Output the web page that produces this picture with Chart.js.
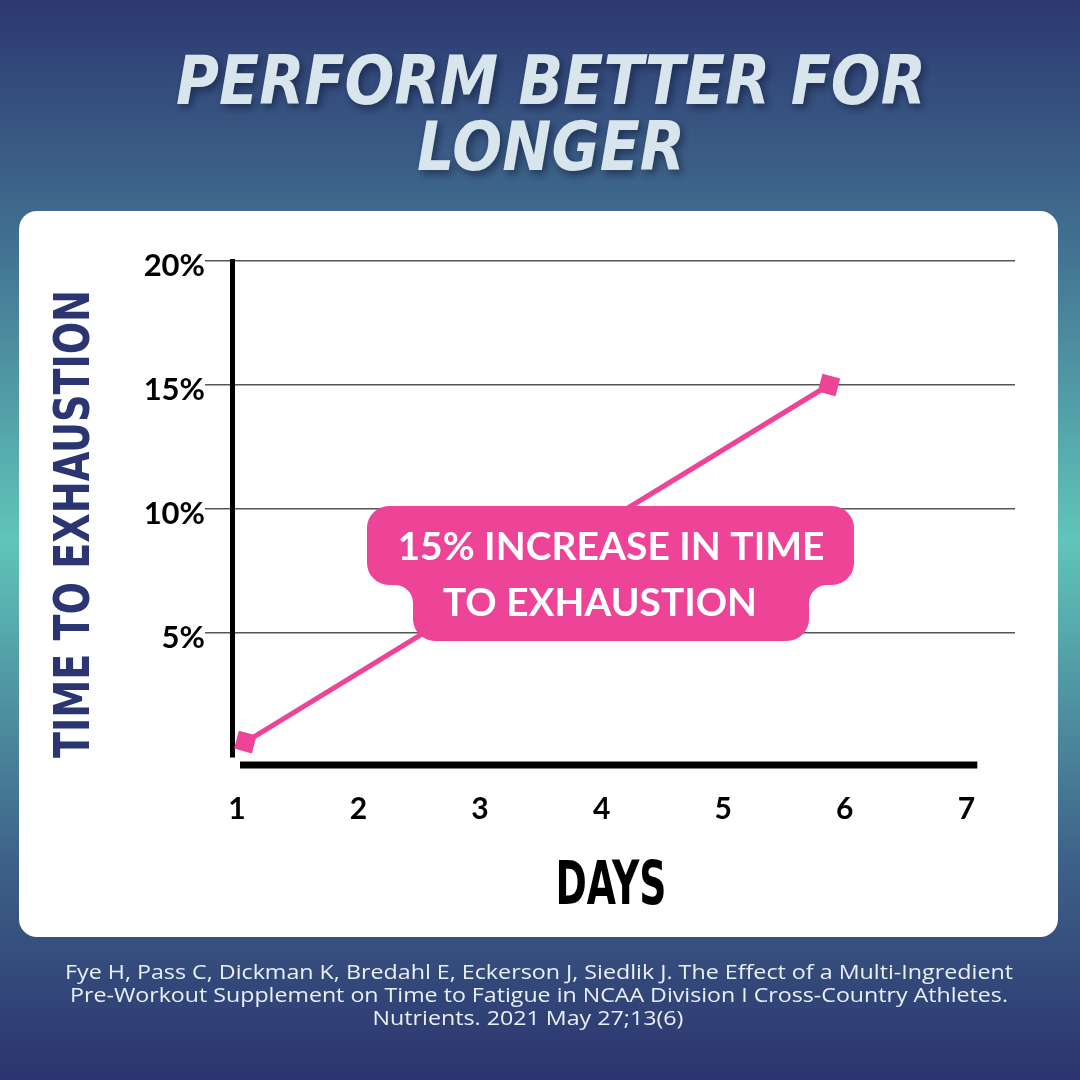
<!DOCTYPE html>
<html>
<head>
<meta charset="utf-8">
<script src="https://cdn.jsdelivr.net/npm/chart.js@4.4.1/dist/chart.umd.min.js"></script>
<style>
  html, body { margin: 0; padding: 0; background: #2c3871; }
  #grafico { display: block; }
</style>
</head>
<body>
<canvas id="grafico" width="1080" height="1080"></canvas>
<script>
// dados do gráfico
const dayTicks = [1, 2, 3, 4, 5, 6, 7];
const pctTicks = [5, 10, 15, 20];
const seriesDays = [1.07, 5.87];
const seriesPct = [0.6, 15.0];

// textos
const titleLines = ['PERFORM BETTER FOR', 'LONGER'];
const yTitle = 'TIME TO EXHAUSTION';
const xTitle = 'DAYS';
const calloutLines = ['15% INCREASE IN TIME', 'TO EXHAUSTION'];
const citeLines = [
    'Fye H, Pass C, Dickman K, Bredahl E, Eckerson J, Siedlik J. The Effect of a Multi-Ingredient',
    'Pre-Workout Supplement on Time to Fatigue in NCAA Division I Cross-Country Athletes.',
    'Nutrients. 2021 May 27;13(6)'
];

const rosa = '#ED4498';
const azulEscuro = '#2b3572';

// escreve o texto com uma escala horizontal
function textoEscala(ctx, texto, cx, baseY, escala, fonte) {
    ctx.font = fonte;
    ctx.save();
    ctx.translate(cx, baseY);
    ctx.scale(escala, 1);
    ctx.textAlign = 'center';
    ctx.textBaseline = 'alphabetic';
    ctx.fillText(texto, 0, 0);
    ctx.restore();
}

// escreve o texto esticado/encolhido para caber na largura
function textoAjustado(ctx, texto, cx, baseY, largura, fonte) {
    ctx.font = fonte;
    let w = ctx.measureText(texto).width;
    textoEscala(ctx, texto, cx, baseY, largura / w, fonte);
    return largura / w;
}

function caixaArredondada(ctx, x, y, w, h, r) {
    ctx.beginPath();
    ctx.moveTo(x + r, y);
    ctx.arcTo(x + w, y, x + w, y + h, r);
    ctx.arcTo(x + w, y + h, x, y + h, r);
    ctx.arcTo(x, y + h, x, y, r);
    ctx.arcTo(x, y, x + w, y, r);
    ctx.closePath();
}

// fundo, cartão branco e textos de fora do gráfico
const fundoPlugin = {
    id: 'fundo',
    beforeDraw(chart) {
        const ctx = chart.ctx;
        ctx.save();
        let g = ctx.createLinearGradient(0, 0, 0, 1080);
        g.addColorStop(0, '#2c3871');
        g.addColorStop(0.22, '#416f90');
        g.addColorStop(0.5, '#60c5ba');
        g.addColorStop(0.8, '#3d6088');
        g.addColorStop(1, '#2b346e');
        ctx.fillStyle = g;
        ctx.fillRect(0, 0, 1080, 1080);

        ctx.fillStyle = '#ffffff';
        caixaArredondada(ctx, 19, 211, 1039, 726, 18);
        ctx.fill();

        // titulo
        ctx.shadowColor = 'rgba(10, 20, 50, 0.55)';
        ctx.shadowBlur = 8;
        ctx.shadowOffsetX = 3;
        ctx.shadowOffsetY = 4;
        ctx.fillStyle = '#d8e5ec';
        textoAjustado(ctx, titleLines[0], 551, 104, 750, 'italic bold 68px "DejaVu Sans"');
        textoAjustado(ctx, titleLines[1], 551, 170, 268, 'italic bold 68px "DejaVu Sans"');
        ctx.shadowColor = 'transparent';

        // citacao
        ctx.fillStyle = '#e9eff4';
        let e1 = textoAjustado(ctx, citeLines[0], 539, 979, 948, '20px "Open Sans"');
        let e2 = textoAjustado(ctx, citeLines[1], 539, 1002, 938, '20px "Open Sans"');
        textoEscala(ctx, citeLines[2], 528, 1025, (e1 + e2) / 2, '20px "Open Sans"');

        // titulos dos eixos
        ctx.fillStyle = azulEscuro;
        ctx.save();
        ctx.translate(89, 524);
        ctx.rotate(-Math.PI / 2);
        textoAjustado(ctx, yTitle, 0, 0, 468, 'bold 50px "DejaVu Sans Condensed"');
        ctx.restore();

        ctx.fillStyle = '#000000';
        textoAjustado(ctx, xTitle, 611, 904, 111, 'bold 61px "DejaVu Sans Condensed"');
        ctx.restore();
    },
    afterDraw(chart) {
        const ctx = chart.ctx;
        const area = chart.chartArea;
        const x = chart.scales.x;
        // linha grossa do eixo x, um pouco abaixo e afastada do eixo y
        ctx.save();
        ctx.strokeStyle = '#000000';
        ctx.lineWidth = 7;
        ctx.beginPath();
        ctx.moveTo(area.left + 8, area.bottom + 8);
        ctx.lineTo(x.getPixelForValue(7.09), area.bottom + 8);
        ctx.stroke();

        // caixa rosa com o destaque
        ctx.fillStyle = rosa;
        const r = 22, f = 18;
        const L1 = 367, R1 = 854, T = 506, M = 585, L2 = 413, R2 = 809, B = 641;
        ctx.beginPath();
        ctx.moveTo(L1 + r, T);
        ctx.arcTo(R1, T, R1, M, r);
        ctx.arcTo(R1, M, R2, M, r);
        ctx.arcTo(R2, M, R2, B, f);
        ctx.arcTo(R2, B, L2, B, r);
        ctx.arcTo(L2, B, L2, M, r);
        ctx.arcTo(L2, M, L1, M, f);
        ctx.arcTo(L1, M, L1, T, r);
        ctx.arcTo(L1, T, R1, T, r);
        ctx.closePath();
        ctx.fill();

        ctx.fillStyle = '#ffffff';
        textoAjustado(ctx, calloutLines[0], 611, 560, 427, 'bold 38px "Lato"');
        textoAjustado(ctx, calloutLines[1], 600, 616, 314, 'bold 38px "Lato"');
        ctx.restore();
    }
};

const pontos = seriesDays.map((d, i) => ({ x: d, y: seriesPct[i] }));

const config = {
    type: 'line',
    data: {
        datasets: [{
            label: 'Time to exhaustion',
            data: pontos,
            borderColor: rosa,
            backgroundColor: rosa,
            borderWidth: 5,
            pointStyle: 'rect',
            pointRadius: 13,
            pointRotation: 15,
            pointBorderWidth: 0,
            pointBackgroundColor: rosa,
            tension: 0,
            clip: false
        }]
    },
    options: {
        responsive: false,
        animation: false,
        devicePixelRatio: 1,
        layout: { padding: { top: 261, right: 65, left: 0, bottom: 0 } },
        plugins: {
            legend: { display: false },
            tooltip: { enabled: false }
        },
        scales: {
            x: {
                type: 'linear',
                min: 0.96,
                max: 7.4,
                afterBuildTicks: (s) => { s.ticks = dayTicks.map(v => ({ value: v })); },
                afterFit: (s) => { s.height = 323; },
                grid: { display: false, drawTicks: false },
                border: { display: false },
                ticks: {
                    color: '#000000',
                    padding: 34,
                    font: { family: 'Lato', weight: 'bold', size: 30 }
                }
            },
            y: {
                min: 0,
                max: 20,
                afterBuildTicks: (s) => { s.ticks = pctTicks.map(v => ({ value: v })); },
                afterFit: (s) => { s.width = 232; },
                grid: { color: '#555555', lineWidth: 1.5, drawTicks: true, tickLength: 27 },
                border: { display: true, color: '#000000', width: 5 },
                ticks: {
                    color: '#000000',
                    padding: 0,
                    labelOffset: 5,
                    callback: (v) => v + '%',
                    font: { family: 'Lato', weight: 'bold', size: 31 }
                }
            }
        }
    },
    plugins: [fundoPlugin]
};

new Chart(document.getElementById('grafico').getContext('2d'), config);
</script>
</body>
</html>
